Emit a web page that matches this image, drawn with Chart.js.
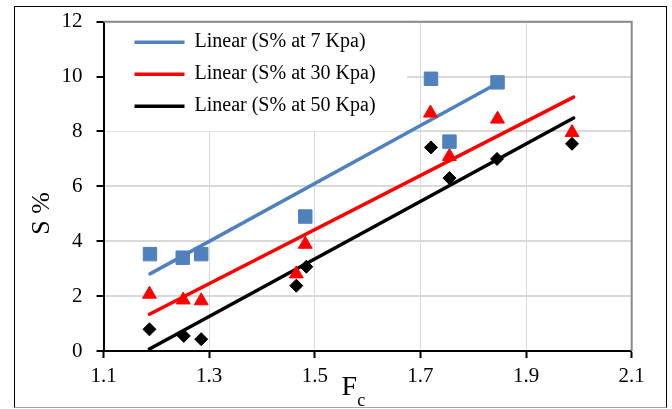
<!DOCTYPE html>
<html>
<head>
<meta charset="utf-8">
<script src="https://cdn.jsdelivr.net/npm/chart.js@4.4.1/dist/chart.umd.min.js"></script>
<style>
    html, body { margin: 0; padding: 0; background: #fff; }
    #wrap { position: relative; width: 672px; height: 409px; }
    #frame {
        position: absolute; left: 14px; top: 6px; width: 651px; height: 400px;
        border: 1px solid #000; border-bottom-color: #a6a6a6; pointer-events: none;
    }
</style>
</head>
<body>
<div id="wrap">
    <canvas id="chart"></canvas>
    <div id="frame"></div>
</div>
<script>
// values
const fc7 = [1.188, 1.25, 1.285, 1.482, 1.72, 1.755, 1.846];
const s7 = [3.53, 3.40, 3.53, 4.90, 9.92, 7.63, 9.79];
const fc30 = [1.187, 1.251, 1.285, 1.465, 1.482, 1.719, 1.755, 1.846, 1.987];
const s30 = [2.07, 1.86, 1.83, 2.81, 3.89, 8.67, 7.09, 8.45, 7.96];
const fc50 = [1.187, 1.252, 1.285, 1.465, 1.484, 1.72, 1.755, 1.845, 1.987];
const s50 = [0.79, 0.55, 0.43, 2.38, 3.07, 7.42, 6.30, 7.00, 7.55];

// linear trend lines (end points)
const trendFc7 = [1.188, 1.846];
const trendS7 = [2.81, 9.76];
const trendFc30 = [1.187, 1.99];
const trendS30 = [1.34, 9.25];
const trendFc50 = [1.187, 1.99];
const trendS50 = [0.07, 8.49];

const legendLabels = ["Linear (S% at 7 Kpa)", "Linear (S% at 30 Kpa)", "Linear (S% at 50 Kpa)"];
const xTicks = [1.1, 1.3, 1.5, 1.7, 1.9, 2.1];
const yTicks = [0, 2, 4, 6, 8, 10, 12];
const xTitle = ["F", "c"];
const yTitle = "S %";

const BLUE = "#4f81bd";
const RED = "#ff0000";
const BLACK = "#000000";
const SERIF = "'Liberation Serif', 'Times New Roman', serif";

function pts(xs, ys) {
    return xs.map((x, i) => ({ x: x, y: ys[i] }));
}

function markers(xs, ys, color, style, radius) {
    return {
        label: "",
        data: pts(xs, ys),
        showLine: false,
        pointStyle: style,
        pointRadius: radius,
        pointBorderWidth: 1,
        backgroundColor: color,
        borderColor: color
    };
}

function trend(label, xs, ys, color) {
    return {
        label: label,
        data: pts(xs, ys),
        showLine: true,
        pointRadius: 0,
        borderWidth: 3.5,
        borderCapStyle: "round",
        borderColor: color,
        backgroundColor: color
    };
}

// legend placed inside the plot, white box behind it, plot frame, axis titles
const decorations = {
    id: "decorations",
    afterLayout(chart) {
        const lg = chart.legend;
        const h = lg.height;
        lg.left += 19;
        lg.right += 19;
        lg.top = chart.chartArea.top - 1.5;
        lg.bottom = lg.top + h;
    },
    beforeDatasetsDraw(chart) {
        const ctx = chart.ctx;
        const a = chart.chartArea;
        const boxes = chart.legend.legendHitBoxes;
        let right = 0;
        boxes.forEach(b => { right = Math.max(right, b.left + b.width); });
        const last = boxes[boxes.length - 1];
        ctx.save();
        ctx.fillStyle = "#fff";
        ctx.fillRect(a.left + 1.5, a.top + 1, right + 30 - a.left, last.top + last.height + 14 - a.top);
        ctx.strokeStyle = "#898989";
        ctx.lineWidth = 2;
        ctx.beginPath();
        ctx.moveTo(a.left, a.top);
        ctx.lineTo(a.right, a.top);
        ctx.lineTo(a.right, a.bottom);
        ctx.stroke();
        ctx.restore();
        chart.legend.draw();
    },
    afterDraw(chart) {
        const ctx = chart.ctx;
        const a = chart.chartArea;
        ctx.save();
        ctx.fillStyle = "#000";
        ctx.font = "26px " + SERIF;
        ctx.textAlign = "center";
        ctx.textBaseline = "middle";
        ctx.translate(42, (a.top + a.bottom) / 2 + 27);
        ctx.rotate(-Math.PI / 2);
        ctx.fillText(yTitle, 0, 0);
        ctx.restore();

        ctx.save();
        ctx.fillStyle = "#000";
        ctx.textBaseline = "alphabetic";
        ctx.textAlign = "left";
        const fx = (a.left + a.right) / 2 - 26;
        ctx.font = "28px " + SERIF;
        ctx.fillText(xTitle[0], fx, a.bottom + 44);
        const fw = ctx.measureText(xTitle[0]).width;
        ctx.font = "18px " + SERIF;
        ctx.fillText(xTitle[1], fx + fw, a.bottom + 55);
        ctx.restore();
    }
};

const ctx = document.getElementById("chart").getContext("2d");

new Chart(ctx, {
    type: "scatter",
    data: {
        datasets: [
            markers(fc7, s7, BLUE, "rect", 9.5),
            markers(fc30, s30, RED, "triangle", 8),
            markers(fc50, s50, BLACK, "rectRot", 6.5),
            trend(legendLabels[0], trendFc7, trendS7, BLUE),
            trend(legendLabels[1], trendFc30, trendS30, RED),
            trend(legendLabels[2], trendFc50, trendS50, BLACK)
        ]
    },
    options: {
        responsive: true,
        maintainAspectRatio: false,
        animation: false,
        layout: {
            padding: { top: 21.7, right: 40.3, left: 0, bottom: 0 }
        },
        plugins: {
            tooltip: { enabled: false },
            legend: {
                position: "chartArea",
                align: "start",
                labels: {
                    usePointStyle: true,
                    pointStyle: "line",
                    pointStyleWidth: 50,
                    padding: 12,
                    color: "#000",
                    font: { family: SERIF, size: 20 },
                    filter: item => item.datasetIndex >= 3
                }
            }
        },
        scales: {
            x: {
                type: "linear",
                min: 1.1,
                max: 2.1,
                afterBuildTicks: s => { s.ticks = xTicks.map(v => ({ value: v })); },
                afterFit: s => { s.height = 58; },
                grid: {
                    color: "#d9d9d9",
                    lineWidth: 1,
                    tickColor: "#000",
                    tickWidth: 2,
                    tickLength: 7
                },
                border: { color: "#000", width: 2 },
                ticks: {
                    color: "#000",
                    padding: 6,
                    font: { family: SERIF, size: 21 },
                    callback: v => v.toFixed(1)
                }
            },
            y: {
                type: "linear",
                min: 0,
                max: 12,
                afterBuildTicks: s => { s.ticks = yTicks.map(v => ({ value: v })); },
                afterFit: s => { s.width = 103.5; s.paddingTop = 0; s.paddingBottom = 0; },
                grid: {
                    color: "#d9d9d9",
                    lineWidth: 2,
                    tickColor: "#000",
                    tickWidth: 2,
                    tickLength: 7
                },
                border: { color: "#000", width: 2 },
                ticks: {
                    color: "#000",
                    padding: 14,
                    font: { family: SERIF, size: 21 },
                    callback: v => String(v)
                }
            }
        }
    },
    plugins: [decorations]
});
</script>
</body>
</html>
